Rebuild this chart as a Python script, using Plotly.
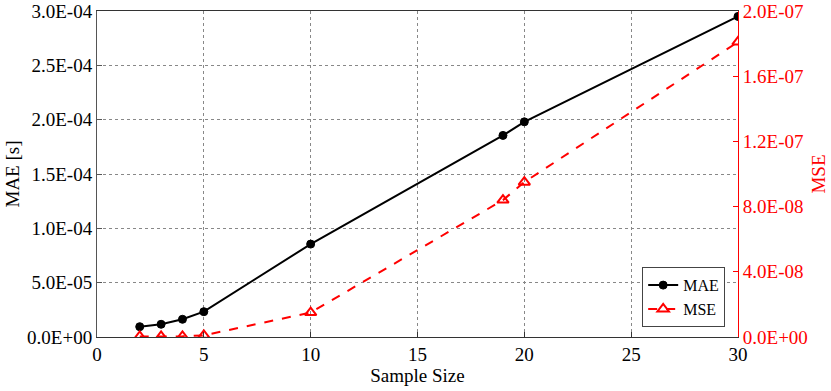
import plotly.graph_objects as go

sample_size = [2, 3, 4, 5, 10, 19, 20, 30]
mae = [9.5e-6, 1.17e-5, 1.63e-5, 2.33e-5, 8.55e-5, 1.855e-4, 1.98e-4, 2.95e-4]
mse = [3e-10, 3e-10, 4e-10, 1.0e-9, 1.5e-8, 8.4e-8, 9.5e-8, 1.81e-7]

left_ticks = [0, 5e-5, 1e-4, 1.5e-4, 2e-4, 2.5e-4, 3e-4]
left_labels = ["0.0E+00", "5.0E-05", "1.0E-04", "1.5E-04", "2.0E-04", "2.5E-04", "3.0E-04"]
right_ticks = [0, 4e-8, 8e-8, 1.2e-7, 1.6e-7, 2e-7]
right_labels = ["0.0E+00", "4.0E-08", "8.0E-08", "1.2E-07", "1.6E-07", "2.0E-07"]

serif = "Times New Roman, Liberation Serif, serif"
fs = 19

fig = go.Figure()
fig.add_trace(go.Scatter(x=sample_size, y=mae, name="MAE", mode="lines+markers",
                         line=dict(color="black", width=2),
                         marker=dict(symbol="circle", size=8, color="black",
                                     line=dict(color="black", width=1))))
fig.add_trace(go.Scatter(x=sample_size, y=mse, name="MSE", mode="lines+markers", yaxis="y2",
                         line=dict(color="red", width=2, dash="dash"),
                         marker=dict(symbol="triangle-up-open", size=10, color="red",
                                     line=dict(color="red", width=2))))

fig.update_layout(
    width=831, height=391,
    margin=dict(l=97, r=93, t=11, b=54, autoexpand=False),
    plot_bgcolor="white", paper_bgcolor="white",
    font=dict(family=serif, size=fs, color="black"),
    showlegend=True,
    legend=dict(x=0.98, y=0.03, xanchor="right", yanchor="bottom",
                bordercolor="#444", borderwidth=1, bgcolor="white",
                font=dict(family=serif, size=16), itemwidth=30),
    xaxis=dict(range=[0, 30], tickvals=[0, 5, 10, 15, 20, 25, 30],
               title=dict(text="Sample Size", standoff=0, font=dict(family=serif, size=fs)),
               tickfont=dict(family=serif, size=fs), ticklabeloverflow="allow",
               showgrid=True, gridcolor="#888", griddash="dot", gridwidth=1,
               showline=True, linecolor="#333", mirror=True, automargin=False,
               ticks="inside", ticklen=5, tickcolor="#333", zeroline=False),
    yaxis=dict(range=[0, 3e-4], tickvals=left_ticks, ticktext=left_labels,
               title=dict(text="MAE [s]", standoff=2, font=dict(family=serif, size=fs)),
               tickfont=dict(family=serif, size=fs), ticklabeloverflow="allow",
               showgrid=True, gridcolor="#888", griddash="dot", gridwidth=1,
               showline=True, linecolor="#555", automargin=False,
               ticks="inside", ticklen=5, tickcolor="#555", zeroline=False),
    yaxis2=dict(range=[0, 2e-7], tickvals=right_ticks, ticktext=right_labels,
                overlaying="y", side="right", automargin=False,
                title=dict(text="MSE", font=dict(family=serif, size=fs, color="red"), standoff=4),
                tickfont=dict(family=serif, size=fs, color="red"), ticklabeloverflow="allow",
                showgrid=False, showline=True, linecolor="red",
                ticks="inside", ticklen=5, tickcolor="red", zeroline=False),
)

# drop the default 8px page margin so the figure sits at the window's corner
fig.write_html("out.html", config={"displayModeBar": False},
               post_script="document.body.style.margin='0';")
